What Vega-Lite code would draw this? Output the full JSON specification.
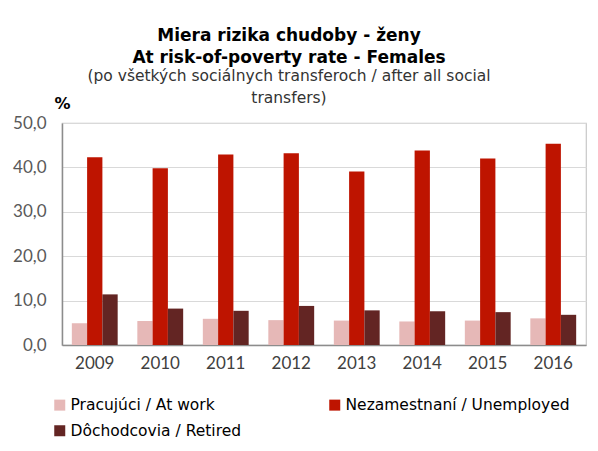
{
  "$schema": "https://vega.github.io/schema/vega-lite/v6.json",
  "autosize": {"type": "none"},
  "padding": {"left": 62, "top": 123, "right": 12, "bottom": 106},
  "width": 524,
  "height": 222,
  "background": "white",
  "title": {
    "text": ["Miera rizika chudoby - ženy", "At risk-of-poverty rate - Females"],
    "subtitle": ["(po všetkých sociálnych transferoch / after all social", "transfers)"],
    "anchor": "middle",
    "dx": -35,
    "font": "DejaVu Sans",
    "fontSize": 17,
    "fontWeight": "bold",
    "color": "black",
    "lineHeight": 22,
    "subtitleFont": "DejaVu Sans",
    "subtitleFontSize": 15.5,
    "subtitleColor": "#333333",
    "subtitleLineHeight": 22,
    "subtitlePadding": 2,
    "offset": -12
  },
  "data": {
    "values": [
      {"year": "2009", "group": "Pracujúci / At work", "value": 4.9},
      {"year": "2009", "group": "Nezamestnaní / Unemployed", "value": 42.3},
      {"year": "2009", "group": "Dôchodcovia / Retired", "value": 11.4},
      {"year": "2010", "group": "Pracujúci / At work", "value": 5.4},
      {"year": "2010", "group": "Nezamestnaní / Unemployed", "value": 39.8},
      {"year": "2010", "group": "Dôchodcovia / Retired", "value": 8.2},
      {"year": "2011", "group": "Pracujúci / At work", "value": 5.9},
      {"year": "2011", "group": "Nezamestnaní / Unemployed", "value": 42.9},
      {"year": "2011", "group": "Dôchodcovia / Retired", "value": 7.7},
      {"year": "2012", "group": "Pracujúci / At work", "value": 5.6},
      {"year": "2012", "group": "Nezamestnaní / Unemployed", "value": 43.2},
      {"year": "2012", "group": "Dôchodcovia / Retired", "value": 8.8},
      {"year": "2013", "group": "Pracujúci / At work", "value": 5.5},
      {"year": "2013", "group": "Nezamestnaní / Unemployed", "value": 39.1},
      {"year": "2013", "group": "Dôchodcovia / Retired", "value": 7.8},
      {"year": "2014", "group": "Pracujúci / At work", "value": 5.3},
      {"year": "2014", "group": "Nezamestnaní / Unemployed", "value": 43.8},
      {"year": "2014", "group": "Dôchodcovia / Retired", "value": 7.6},
      {"year": "2015", "group": "Pracujúci / At work", "value": 5.5},
      {"year": "2015", "group": "Nezamestnaní / Unemployed", "value": 42.0},
      {"year": "2015", "group": "Dôchodcovia / Retired", "value": 7.4},
      {"year": "2016", "group": "Pracujúci / At work", "value": 6.0},
      {"year": "2016", "group": "Nezamestnaní / Unemployed", "value": 45.3},
      {"year": "2016", "group": "Dôchodcovia / Retired", "value": 6.8}
    ]
  },
  "mark": {"type": "bar"},
  "encoding": {
    "x": {
      "field": "year",
      "type": "nominal",
      "scale": {"paddingInner": 0.3, "paddingOuter": 0.15},
      "axis": {
        "title": null,
        "labelAngle": 0,
        "labelFont": "Lato",
        "labelFontSize": 17,
        "labelColor": "#404040",
        "labelPadding": 10,
        "ticks": false,
        "domainColor": "#8c8c8c",
        "domainWidth": 1.5
      }
    },
    "xOffset": {
      "field": "group",
      "type": "nominal",
      "sort": ["Pracujúci / At work", "Nezamestnaní / Unemployed", "Dôchodcovia / Retired"],
      "scale": {"paddingInner": 0, "paddingOuter": 0}
    },
    "y": {
      "field": "value",
      "type": "quantitative",
      "scale": {"domain": [0, 50]},
      "axis": {
        "title": "%",
        "titleAngle": 0,
        "titleX": 0,
        "titleY": -20,
        "titleAlign": "center",
        "titleBaseline": "middle",
        "titleFont": "DejaVu Sans",
        "titleFontSize": 16,
        "titleFontWeight": "bold",
        "titleColor": "black",
        "values": [0, 10, 20, 30, 40, 50],
        "labelExpr": "replace(format(datum.value, '.1f'), '.', ',')",
        "labelFont": "Lato",
        "labelFontSize": 17,
        "labelColor": "#595959",
        "labelPadding": 16,
        "ticks": false,
        "domainColor": "#8c8c8c",
        "domainWidth": 1.5,
        "gridColor": "#d9d9d9",
        "gridWidth": 1.2
      }
    },
    "color": {
      "field": "group",
      "type": "nominal",
      "scale": {
        "domain": ["Pracujúci / At work", "Nezamestnaní / Unemployed", "Dôchodcovia / Retired"],
        "range": ["#E6B8B7", "#BE1400", "#632523"]
      },
      "legend": {
        "title": null,
        "orient": "none",
        "legendX": -10,
        "legendY": 274,
        "direction": "horizontal",
        "columns": 2,
        "columnPadding": 85,
        "rowPadding": 9,
        "symbolType": "square",
        "symbolSize": 121,
        "symbolStrokeWidth": 0,
        "labelFont": "DejaVu Sans",
        "labelFontSize": 15.5,
        "labelColor": "black",
        "labelOffset": 3,
        "labelLimit": 400
      }
    }
  },
  "config": {
    "view": {"stroke": "#c8c8c8", "strokeWidth": 1.2}
  }
}
